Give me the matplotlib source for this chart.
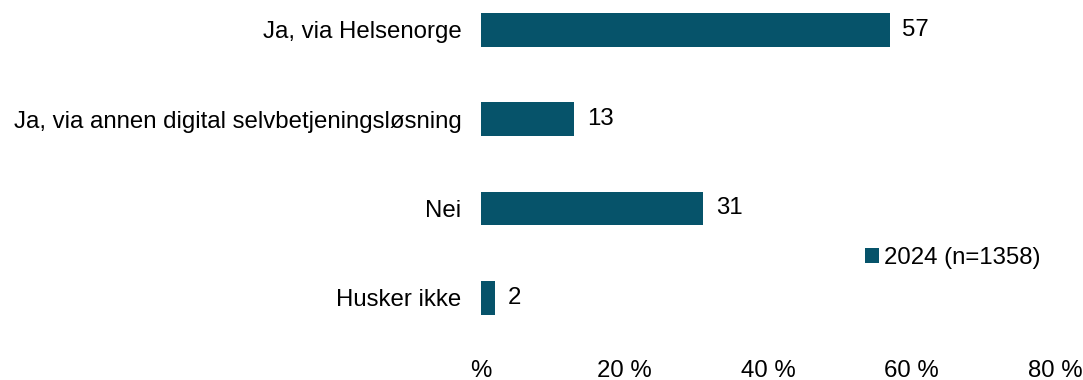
import numpy as np
import matplotlib.pyplot as plt

plt.rcParams['font.family'] = ['Liberation Sans', 'DejaVu Sans']

categories = ["Ja, via Helsenorge", "Ja, via annen digital selvbetjeningsløsning", "Nei", "Husker ikke"]
values_2024 = [57, 13, 31, 2]
series_label = "2024 (n=1358)"
xticks = [0, 20, 40, 60, 80]
xtick_labels = ["%", "20 %", "40 %", "60 %", "80 %"]

color = "#06536A"
fs = 17.3

fig = plt.figure(figsize=(10.83, 3.8), dpi=100)
ax = fig.add_axes([481 / 1083, 1 - 345 / 380, (1055 - 481) / 1083, 345 / 380])

y = np.arange(len(categories))
bars = ax.barh(y, values_2024, height=0.38, color=color, label=series_label)
ax.bar_label(bars, labels=[str(v) for v in values_2024], padding=9, fontsize=fs)

ax.set_ylim(3.53, -0.336)
ax.set_xlim(0, 80)
ax.set_yticks(y)
ax.set_yticklabels(categories, fontsize=fs)
ax.set_xticks(xticks)
ax.set_xticklabels(xtick_labels, fontsize=fs)
ax.tick_params(axis='y', length=0, pad=14)
ax.tick_params(axis='x', length=0, pad=10.5)
for s in ax.spines.values():
    s.set_visible(False)

ax.legend(loc='center left', bbox_to_anchor=(865 / 1083, 1 - 258 / 380),
          bbox_transform=fig.transFigure, frameon=False, fontsize=fs,
          handlelength=0.6, handleheight=0.6, handletextpad=0.2, borderpad=0, borderaxespad=0)

plt.savefig("out.png", dpi=100)
